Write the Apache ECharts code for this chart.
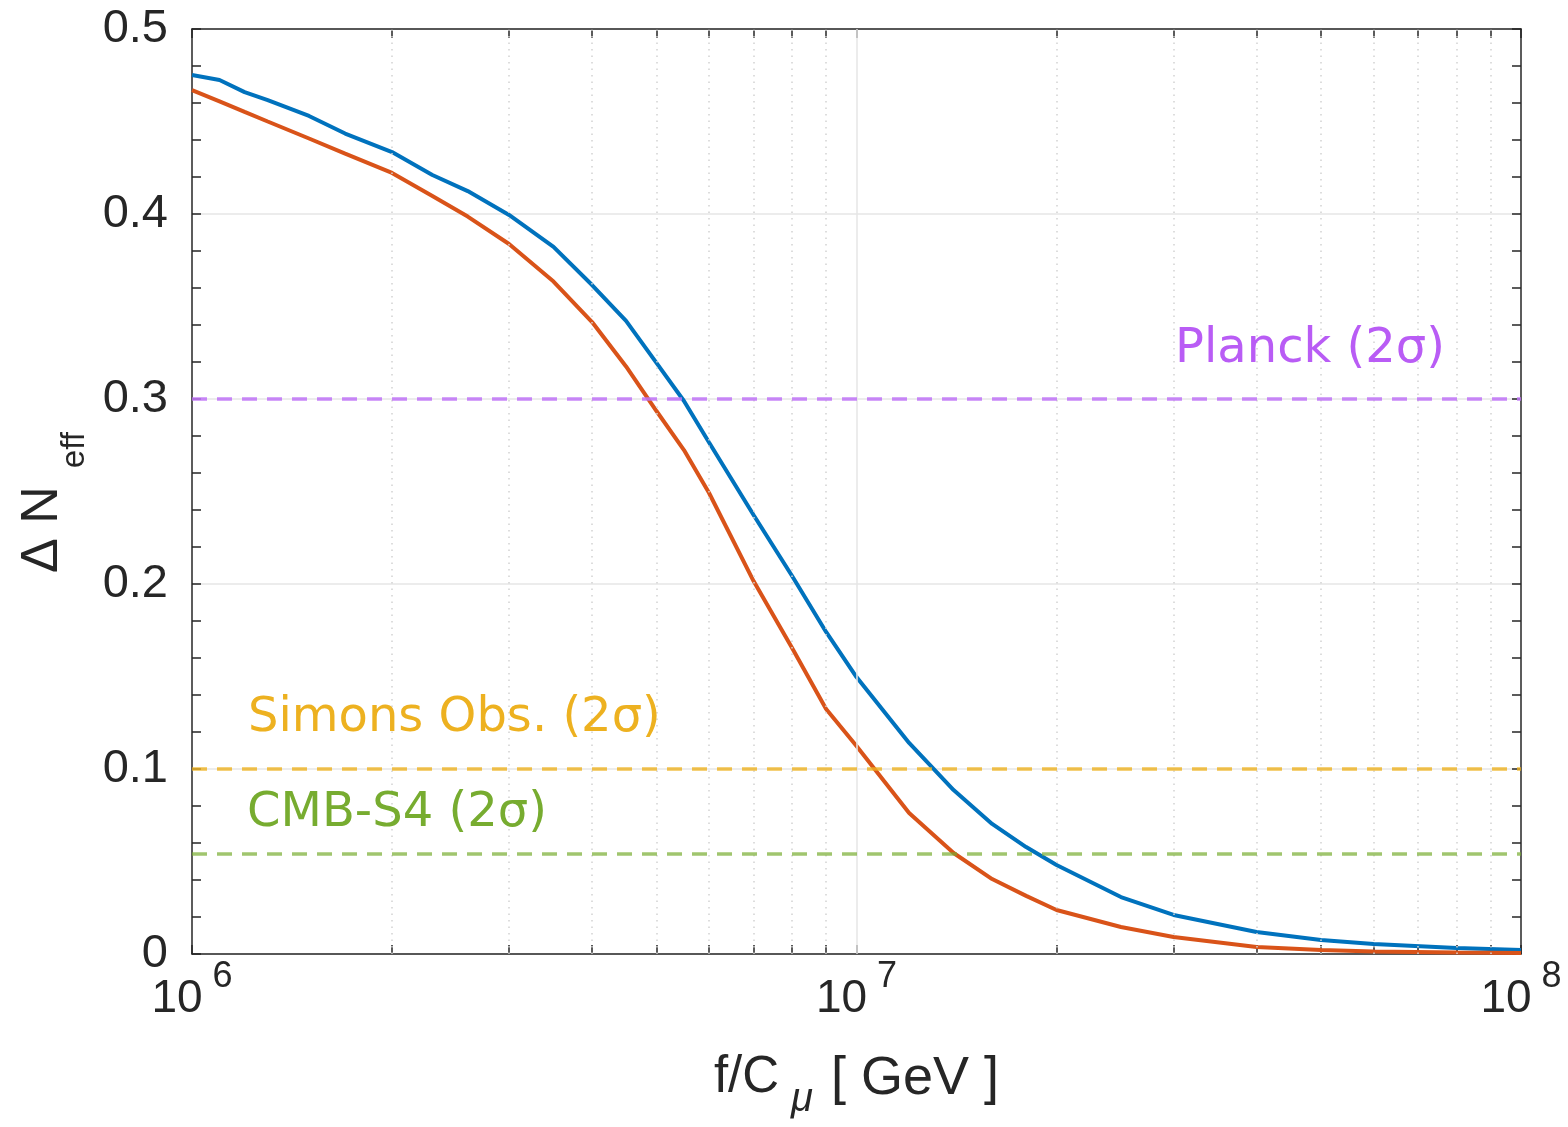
<!DOCTYPE html>
<html><head><meta charset="utf-8">
<script src="https://cdn.jsdelivr.net/npm/echarts@6/dist/echarts.min.js"></script>
<style>html,body{margin:0;padding:0;background:#fff}#c{width:1568px;height:1127px}</style>
</head><body><div id="c"></div>
<script>
// f/C_mu in GeV
const fVals = [1.0e6, 1.1e6, 1.2e6, 1.3e6, 1.5e6, 1.7e6, 2.0e6, 2.3e6, 2.6e6, 3.0e6, 3.5e6, 4.0e6, 4.5e6, 5.0e6, 5.5e6, 6e6, 7e6, 8e6, 9e6, 1e7, 1.2e7, 1.4e7, 1.6e7, 1.8e7, 2e7, 2.5e7, 3e7, 4e7, 5e7, 6e7, 8e7, 1e8];
const blueVals = [0.4751,0.4724,0.4659,0.4616,0.4530,0.4435,0.4335,0.4211,0.4124,0.3995,0.3822,0.3616,0.3422,0.3195,0.2989,0.2765,0.2373,0.2043,0.1741,0.1497,0.1141,0.0886,0.0703,0.0578,0.0481,0.0308,0.0211,0.0119,0.0076,0.0054,0.0032,0.0022];
const orangeVals = [0.4670,0.4609,0.4552,0.4500,0.4408,0.4326,0.4222,0.4097,0.3986,0.3838,0.3635,0.3416,0.3176,0.2935,0.2724,0.2492,0.2016,0.1654,0.1324,0.1124,0.0762,0.0546,0.0405,0.0314,0.0238,0.0146,0.0092,0.0038,0.0022,0.0014,0.0008,0.0005];
// reference limits
const refNames = ['Planck (2σ)', 'Simons Obs. (2σ)', 'CMB-S4 (2σ)'];
const refValues = [0.3, 0.1, 0.054];
// ticks
const xMajorTicks = [1e6, 1e7, 1e8];
const xMinorTicks = [2e6,3e6,4e6,5e6,6e6,7e6,8e6,9e6,2e7,3e7,4e7,5e7,6e7,7e7,8e7,9e7];
const yTickLabels = ['0','0.1','0.2','0.3','0.4','0.5'];

const sans = '"Liberation Sans", Arial, Helvetica, sans-serif';
const axisColor = '#262626';
const allXTicks = xMajorTicks.concat(xMinorTicks).sort((a,b)=>a-b);

const chart = echarts.init(document.getElementById('c'));
const pair = (xs, ys) => xs.map((x,i)=>[x, ys[i]]);

const refStyles = [
  {text:'#b95cf5', line:'rgba(192,115,247,0.85)', pos:'insideEndTop', pad:[0,51,0,0], dist:25},
  {text:'#edb120', line:'rgba(237,177,32,0.8)', pos:'insideStartTop', pad:[0,0,0,30], dist:26},
  {text:'#77ac30', line:'rgba(119,172,48,0.7)', pos:'insideStartTop', pad:[0,0,0,38], dist:17}
];

const xAxisBase = {
  type:'log', logBase:10, min:1e6, max:1e8, gridIndex:0,
  axisLine:{show:true, onZero:false, lineStyle:{color:axisColor, width:1.5}},
  axisTick:{show:true, inside:true, length:9, customValues:allXTicks, lineStyle:{color:axisColor, width:1.5}},
  splitLine:{show:false}, minorTick:{show:false}, minorSplitLine:{show:false}
};

chart.setOption({
  animation:false,
  backgroundColor:'#fff',
  grid:{left:192, top:29, right:47, bottom:173, containLabel:false},
  xAxis:[
    Object.assign({}, xAxisBase, {
      position:'bottom',
      axisLabel:{show:true, customValues:xMajorTicks, margin:22,
        formatter:v=>'{b|10}{s|'+Math.round(Math.log10(v))+'}',
        rich:{
          b:{fontFamily:sans, fontSize:46, lineHeight:46, color:axisColor, verticalAlign:'bottom'},
          s:{fontFamily:sans, fontSize:36, lineHeight:36, color:axisColor, verticalAlign:'bottom', padding:[0,0,27,10]}
        }},
      name:'{m|f/C}{u|μ}{g| [ GeV ]}', nameLocation:'middle', nameGap:98,
      nameTextStyle:{rich:{
        m:{fontFamily:sans, fontSize:51, lineHeight:51, color:axisColor, verticalAlign:'top'},
        g:{fontFamily:sans, fontSize:54, lineHeight:51, color:axisColor, verticalAlign:'top'},
        u:{fontFamily:sans, fontSize:40, fontStyle:'italic', lineHeight:40, color:axisColor, verticalAlign:'top', padding:[28,3,0,12]}
      }}
    }),
    Object.assign({}, xAxisBase, {position:'top', axisLabel:{show:false}})
  ],
  yAxis:[0,1].map(i=>({
    type:'value', min:0, max:0.5, interval:0.1, position:i===0?'left':'right', gridIndex:0,
    axisLine:{show:true, onZero:false, lineStyle:{color:axisColor, width:1.5}},
    axisTick:{show:true, inside:true, length:9, lineStyle:{color:axisColor, width:1.5}},
    minorTick:{show:true, splitNumber:5, length:9, lineStyle:{color:axisColor, width:1.5}},
    axisLabel:i===0?{show:true, fontFamily:sans, fontSize:47, color:axisColor, margin:24,
      formatter:v=>yTickLabels[Math.round(v*10)]}:{show:false},
    splitLine:{show:i===0, lineStyle:{color:'#e6e6e6', width:1.5}},
    name:i===0?'{a|Δ N}{s|eff}':'', nameLocation:'middle', nameRotate:90, nameGap:113,
    nameTextStyle:{rich:{
      a:{fontFamily:sans, fontSize:52, lineHeight:52, color:axisColor, verticalAlign:'top'},
      s:{fontFamily:sans, fontSize:33, lineHeight:33, color:axisColor, verticalAlign:'top', padding:[42,22,0,18]}
    }}
  })),
  series:[
    {type:'line', name:'grid', data:[], silent:true, z:0,
      markLine:{silent:true, symbol:['none','none'], animation:false, label:{show:false}, precision:6,
        data:xMinorTicks.map(v=>({xAxis:v, lineStyle:{color:'#d2d2d2', width:1.5, type:[1.5,5]}}))
          .concat(xMajorTicks.slice(1,2).map(v=>({xAxis:v, lineStyle:{color:'#e6e6e6', width:1.5, type:'solid'}})))
      }},
    {type:'line', name:'ΔNeff (upper)', data:pair(fVals, blueVals), showSymbol:false, z:3,
      lineStyle:{color:'#0072bd', width:4}, itemStyle:{color:'#0072bd'}},
    {type:'line', name:'ΔNeff (lower)', data:pair(fVals, orangeVals), showSymbol:false, z:3,
      lineStyle:{color:'#d95319', width:4}, itemStyle:{color:'#d95319'}},
    {type:'line', name:'limits', data:[], silent:true, z:2,
      markLine:{silent:true, symbol:['none','none'], animation:false, precision:4,
        data:refValues.map((v,i)=>({yAxis:v,
          lineStyle:{color:refStyles[i].line, width:3.5, type:[15,10]},
          label:{show:true, formatter:refNames[i], position:refStyles[i].pos, color:refStyles[i].text,
            fontFamily:'"DejaVu Sans", Verdana, sans-serif', fontSize:48, lineHeight:48,
            padding:refStyles[i].pad, distance:refStyles[i].dist}
        }))
      }}
  ]
});
</script></body></html>
